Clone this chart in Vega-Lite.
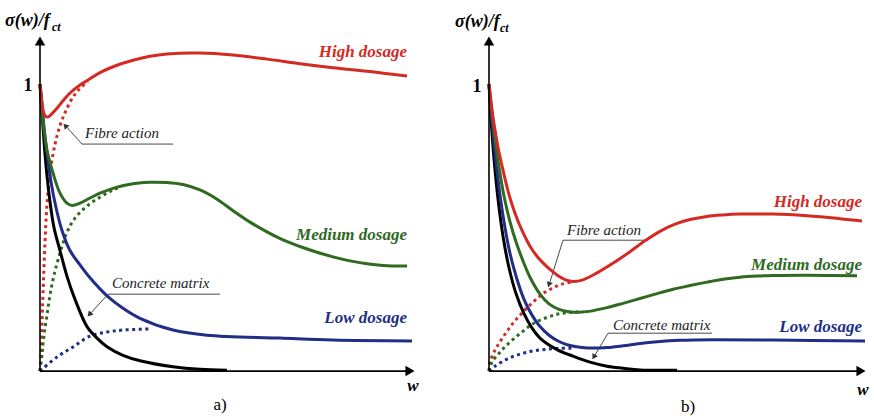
{
  "$schema": "https://vega.github.io/schema/vega-lite/v6.json",
  "padding": 0,
  "autosize": {"type": "pad"},
  "background": "white",
  "spacing": 0,
  "config": {"view": {"stroke": null}, "concat": {"spacing": 0}, "text": {"font": "Liberation Serif, Times New Roman, DejaVu Serif, serif"}},
  "datasets": {
    "curves": [
      {"p":"a","d":"Matrix","k":"t","w":0,"s":1},{"p":"a","d":"Matrix","k":"t","w":0.02,"s":0.9},{"p":"a","d":"Matrix","k":"t","w":0.04,"s":0.8},{"p":"a","d":"Matrix","k":"t","w":0.07,"s":0.68},{"p":"a","d":"Matrix","k":"t","w":0.1,"s":0.59},{"p":"a","d":"Matrix","k":"t","w":0.14,"s":0.5},{"p":"a","d":"Matrix","k":"t","w":0.2,"s":0.42},{"p":"a","d":"Matrix","k":"t","w":0.27,"s":0.33},{"p":"a","d":"Matrix","k":"t","w":0.35,"s":0.25},{"p":"a","d":"Matrix","k":"t","w":0.47,"s":0.155},{"p":"a","d":"Matrix","k":"t","w":0.57,"s":0.115},{"p":"a","d":"Matrix","k":"t","w":0.67,"s":0.085},{"p":"a","d":"Matrix","k":"t","w":0.83,"s":0.055},{"p":"a","d":"Matrix","k":"t","w":1.0,"s":0.036},{"p":"a","d":"Matrix","k":"t","w":1.33,"s":0.015},{"p":"a","d":"Matrix","k":"t","w":1.6,"s":0.006},{"p":"a","d":"Matrix","k":"t","w":1.87,"s":0.003},

      {"p":"a","d":"Low","k":"t","w":0,"s":1},{"p":"a","d":"Low","k":"t","w":0.02,"s":0.93},{"p":"a","d":"Low","k":"t","w":0.04,"s":0.85},{"p":"a","d":"Low","k":"t","w":0.07,"s":0.76},{"p":"a","d":"Low","k":"t","w":0.11,"s":0.66},{"p":"a","d":"Low","k":"t","w":0.16,"s":0.57},{"p":"a","d":"Low","k":"t","w":0.22,"s":0.49},{"p":"a","d":"Low","k":"t","w":0.3,"s":0.42},{"p":"a","d":"Low","k":"t","w":0.4,"s":0.37},{"p":"a","d":"Low","k":"t","w":0.5,"s":0.325},{"p":"a","d":"Low","k":"t","w":0.67,"s":0.262},{"p":"a","d":"Low","k":"t","w":0.83,"s":0.219},{"p":"a","d":"Low","k":"t","w":1.0,"s":0.184},{"p":"a","d":"Low","k":"t","w":1.33,"s":0.143},{"p":"a","d":"Low","k":"t","w":1.67,"s":0.125},{"p":"a","d":"Low","k":"t","w":2.4,"s":0.115},{"p":"a","d":"Low","k":"t","w":2.93,"s":0.108},{"p":"a","d":"Low","k":"t","w":3.72,"s":0.105},

      {"p":"a","d":"Medium","k":"t","w":0,"s":1},{"p":"a","d":"Medium","k":"t","w":0.015,"s":0.93},{"p":"a","d":"Medium","k":"t","w":0.03,"s":0.87},{"p":"a","d":"Medium","k":"t","w":0.07,"s":0.77},{"p":"a","d":"Medium","k":"t","w":0.13,"s":0.69},{"p":"a","d":"Medium","k":"t","w":0.2,"s":0.62},{"p":"a","d":"Medium","k":"t","w":0.27,"s":0.585},{"p":"a","d":"Medium","k":"t","w":0.32,"s":0.577},{"p":"a","d":"Medium","k":"t","w":0.4,"s":0.585},{"p":"a","d":"Medium","k":"t","w":0.5,"s":0.603},{"p":"a","d":"Medium","k":"t","w":0.6,"s":0.62},{"p":"a","d":"Medium","k":"t","w":0.77,"s":0.641},{"p":"a","d":"Medium","k":"t","w":0.93,"s":0.653},{"p":"a","d":"Medium","k":"t","w":1.1,"s":0.658},{"p":"a","d":"Medium","k":"t","w":1.27,"s":0.657},{"p":"a","d":"Medium","k":"t","w":1.43,"s":0.65},{"p":"a","d":"Medium","k":"t","w":1.6,"s":0.631},{"p":"a","d":"Medium","k":"t","w":1.77,"s":0.599},{"p":"a","d":"Medium","k":"t","w":1.93,"s":0.559},{"p":"a","d":"Medium","k":"t","w":2.1,"s":0.519},{"p":"a","d":"Medium","k":"t","w":2.27,"s":0.485},{"p":"a","d":"Medium","k":"t","w":2.43,"s":0.457},{"p":"a","d":"Medium","k":"t","w":2.6,"s":0.434},{"p":"a","d":"Medium","k":"t","w":2.77,"s":0.414},{"p":"a","d":"Medium","k":"t","w":2.93,"s":0.398},{"p":"a","d":"Medium","k":"t","w":3.1,"s":0.384},{"p":"a","d":"Medium","k":"t","w":3.27,"s":0.374},{"p":"a","d":"Medium","k":"t","w":3.43,"s":0.368},{"p":"a","d":"Medium","k":"t","w":3.67,"s":0.366},

      {"p":"a","d":"High","k":"t","w":0,"s":1},{"p":"a","d":"High","k":"t","w":0.015,"s":0.95},{"p":"a","d":"High","k":"t","w":0.03,"s":0.91},{"p":"a","d":"High","k":"t","w":0.05,"s":0.89},{"p":"a","d":"High","k":"t","w":0.08,"s":0.885},{"p":"a","d":"High","k":"t","w":0.12,"s":0.897},{"p":"a","d":"High","k":"t","w":0.17,"s":0.916},{"p":"a","d":"High","k":"t","w":0.23,"s":0.942},{"p":"a","d":"High","k":"t","w":0.3,"s":0.969},{"p":"a","d":"High","k":"t","w":0.4,"s":0.997},{"p":"a","d":"High","k":"t","w":0.48,"s":1.014},{"p":"a","d":"High","k":"t","w":0.6,"s":1.04},{"p":"a","d":"High","k":"t","w":0.75,"s":1.063},{"p":"a","d":"High","k":"t","w":0.93,"s":1.083},{"p":"a","d":"High","k":"t","w":1.1,"s":1.097},{"p":"a","d":"High","k":"t","w":1.27,"s":1.105},{"p":"a","d":"High","k":"t","w":1.6,"s":1.108},{"p":"a","d":"High","k":"t","w":1.93,"s":1.101},{"p":"a","d":"High","k":"t","w":2.27,"s":1.087},{"p":"a","d":"High","k":"t","w":2.6,"s":1.071},{"p":"a","d":"High","k":"t","w":2.93,"s":1.057},{"p":"a","d":"High","k":"t","w":3.27,"s":1.045},{"p":"a","d":"High","k":"t","w":3.67,"s":1.028},

      {"p":"a","d":"High","k":"f","w":0,"s":0},{"p":"a","d":"High","k":"f","w":0.01,"s":0.06},{"p":"a","d":"High","k":"f","w":0.02,"s":0.16},{"p":"a","d":"High","k":"f","w":0.03,"s":0.27},{"p":"a","d":"High","k":"f","w":0.05,"s":0.45},{"p":"a","d":"High","k":"f","w":0.07,"s":0.58},{"p":"a","d":"High","k":"f","w":0.1,"s":0.69},{"p":"a","d":"High","k":"f","w":0.15,"s":0.79},{"p":"a","d":"High","k":"f","w":0.2,"s":0.855},{"p":"a","d":"High","k":"f","w":0.25,"s":0.9},{"p":"a","d":"High","k":"f","w":0.33,"s":0.955},{"p":"a","d":"High","k":"f","w":0.4,"s":0.985},{"p":"a","d":"High","k":"f","w":0.48,"s":1.008},

      {"p":"a","d":"Medium","k":"f","w":0,"s":0},{"p":"a","d":"Medium","k":"f","w":0.02,"s":0.056},{"p":"a","d":"Medium","k":"f","w":0.04,"s":0.125},{"p":"a","d":"Medium","k":"f","w":0.07,"s":0.195},{"p":"a","d":"Medium","k":"f","w":0.1,"s":0.265},{"p":"a","d":"Medium","k":"f","w":0.14,"s":0.334},{"p":"a","d":"Medium","k":"f","w":0.2,"s":0.411},{"p":"a","d":"Medium","k":"f","w":0.27,"s":0.484},{"p":"a","d":"Medium","k":"f","w":0.35,"s":0.533},{"p":"a","d":"Medium","k":"f","w":0.47,"s":0.575},{"p":"a","d":"Medium","k":"f","w":0.6,"s":0.606},{"p":"a","d":"Medium","k":"f","w":0.73,"s":0.631},{"p":"a","d":"Medium","k":"f","w":0.82,"s":0.645},

      {"p":"a","d":"Low","k":"f","w":0,"s":0},{"p":"a","d":"Low","k":"f","w":0.17,"s":0.049},{"p":"a","d":"Low","k":"f","w":0.33,"s":0.084},{"p":"a","d":"Low","k":"f","w":0.5,"s":0.122},{"p":"a","d":"Low","k":"f","w":0.67,"s":0.136},{"p":"a","d":"Low","k":"f","w":0.83,"s":0.143},{"p":"a","d":"Low","k":"f","w":1.1,"s":0.147},

      {"p":"b","d":"Matrix","k":"t","w":0,"s":1},{"p":"b","d":"Matrix","k":"t","w":0.02,"s":0.88},{"p":"b","d":"Matrix","k":"t","w":0.05,"s":0.74},{"p":"b","d":"Matrix","k":"t","w":0.09,"s":0.6},{"p":"b","d":"Matrix","k":"t","w":0.14,"s":0.47},{"p":"b","d":"Matrix","k":"t","w":0.2,"s":0.36},{"p":"b","d":"Matrix","k":"t","w":0.27,"s":0.27},{"p":"b","d":"Matrix","k":"t","w":0.35,"s":0.2},{"p":"b","d":"Matrix","k":"t","w":0.43,"s":0.15},{"p":"b","d":"Matrix","k":"t","w":0.51,"s":0.115},{"p":"b","d":"Matrix","k":"t","w":0.68,"s":0.075},{"p":"b","d":"Matrix","k":"t","w":0.84,"s":0.052},{"p":"b","d":"Matrix","k":"t","w":1.01,"s":0.031},{"p":"b","d":"Matrix","k":"t","w":1.18,"s":0.017},{"p":"b","d":"Matrix","k":"t","w":1.34,"s":0.01},{"p":"b","d":"Matrix","k":"t","w":1.51,"s":0.004},{"p":"b","d":"Matrix","k":"t","w":1.88,"s":0.003},

      {"p":"b","d":"Low","k":"t","w":0,"s":1},{"p":"b","d":"Low","k":"t","w":0.03,"s":0.87},{"p":"b","d":"Low","k":"t","w":0.06,"s":0.76},{"p":"b","d":"Low","k":"t","w":0.1,"s":0.64},{"p":"b","d":"Low","k":"t","w":0.15,"s":0.52},{"p":"b","d":"Low","k":"t","w":0.21,"s":0.41},{"p":"b","d":"Low","k":"t","w":0.28,"s":0.32},{"p":"b","d":"Low","k":"t","w":0.35,"s":0.25},{"p":"b","d":"Low","k":"t","w":0.43,"s":0.195},{"p":"b","d":"Low","k":"t","w":0.51,"s":0.155},{"p":"b","d":"Low","k":"t","w":0.6,"s":0.125},{"p":"b","d":"Low","k":"t","w":0.7,"s":0.103},{"p":"b","d":"Low","k":"t","w":0.8,"s":0.09},{"p":"b","d":"Low","k":"t","w":0.93,"s":0.082},{"p":"b","d":"Low","k":"t","w":1.05,"s":0.08},{"p":"b","d":"Low","k":"t","w":1.18,"s":0.082},{"p":"b","d":"Low","k":"t","w":1.34,"s":0.088},{"p":"b","d":"Low","k":"t","w":1.51,"s":0.096},{"p":"b","d":"Low","k":"t","w":1.68,"s":0.102},{"p":"b","d":"Low","k":"t","w":1.91,"s":0.107},{"p":"b","d":"Low","k":"t","w":2.24,"s":0.109},{"p":"b","d":"Low","k":"t","w":2.84,"s":0.108},{"p":"b","d":"Low","k":"t","w":3.76,"s":0.105},

      {"p":"b","d":"Medium","k":"t","w":0,"s":1},{"p":"b","d":"Medium","k":"t","w":0.03,"s":0.9},{"p":"b","d":"Medium","k":"t","w":0.06,"s":0.81},{"p":"b","d":"Medium","k":"t","w":0.1,"s":0.71},{"p":"b","d":"Medium","k":"t","w":0.15,"s":0.61},{"p":"b","d":"Medium","k":"t","w":0.21,"s":0.52},{"p":"b","d":"Medium","k":"t","w":0.28,"s":0.44},{"p":"b","d":"Medium","k":"t","w":0.35,"s":0.375},{"p":"b","d":"Medium","k":"t","w":0.41,"s":0.327},{"p":"b","d":"Medium","k":"t","w":0.51,"s":0.268},{"p":"b","d":"Medium","k":"t","w":0.6,"s":0.234},{"p":"b","d":"Medium","k":"t","w":0.7,"s":0.215},{"p":"b","d":"Medium","k":"t","w":0.8,"s":0.207},{"p":"b","d":"Medium","k":"t","w":0.9,"s":0.205},{"p":"b","d":"Medium","k":"t","w":1.0,"s":0.208},{"p":"b","d":"Medium","k":"t","w":1.18,"s":0.221},{"p":"b","d":"Medium","k":"t","w":1.34,"s":0.236},{"p":"b","d":"Medium","k":"t","w":1.51,"s":0.253},{"p":"b","d":"Medium","k":"t","w":1.68,"s":0.27},{"p":"b","d":"Medium","k":"t","w":1.84,"s":0.285},{"p":"b","d":"Medium","k":"t","w":2.01,"s":0.298},{"p":"b","d":"Medium","k":"t","w":2.18,"s":0.31},{"p":"b","d":"Medium","k":"t","w":2.34,"s":0.32},{"p":"b","d":"Medium","k":"t","w":2.51,"s":0.327},{"p":"b","d":"Medium","k":"t","w":2.68,"s":0.331},{"p":"b","d":"Medium","k":"t","w":2.84,"s":0.333},{"p":"b","d":"Medium","k":"t","w":3.18,"s":0.334},{"p":"b","d":"Medium","k":"t","w":3.68,"s":0.332},

      {"p":"b","d":"High","k":"t","w":0,"s":1},{"p":"b","d":"High","k":"t","w":0.03,"s":0.91},{"p":"b","d":"High","k":"t","w":0.06,"s":0.84},{"p":"b","d":"High","k":"t","w":0.09,"s":0.78},{"p":"b","d":"High","k":"t","w":0.14,"s":0.7},{"p":"b","d":"High","k":"t","w":0.2,"s":0.615},{"p":"b","d":"High","k":"t","w":0.26,"s":0.55},{"p":"b","d":"High","k":"t","w":0.33,"s":0.49},{"p":"b","d":"High","k":"t","w":0.41,"s":0.435},{"p":"b","d":"High","k":"t","w":0.48,"s":0.4},{"p":"b","d":"High","k":"t","w":0.54,"s":0.377},{"p":"b","d":"High","k":"t","w":0.61,"s":0.354},{"p":"b","d":"High","k":"t","w":0.68,"s":0.335},{"p":"b","d":"High","k":"t","w":0.76,"s":0.319},{"p":"b","d":"High","k":"t","w":0.84,"s":0.312},{"p":"b","d":"High","k":"t","w":0.94,"s":0.318},{"p":"b","d":"High","k":"t","w":1.08,"s":0.342},{"p":"b","d":"High","k":"t","w":1.25,"s":0.378},{"p":"b","d":"High","k":"t","w":1.41,"s":0.416},{"p":"b","d":"High","k":"t","w":1.56,"s":0.454},{"p":"b","d":"High","k":"t","w":1.71,"s":0.487},{"p":"b","d":"High","k":"t","w":1.86,"s":0.512},{"p":"b","d":"High","k":"t","w":2.01,"s":0.528},{"p":"b","d":"High","k":"t","w":2.18,"s":0.539},{"p":"b","d":"High","k":"t","w":2.34,"s":0.544},{"p":"b","d":"High","k":"t","w":2.51,"s":0.547},{"p":"b","d":"High","k":"t","w":2.84,"s":0.547},{"p":"b","d":"High","k":"t","w":3.18,"s":0.541},{"p":"b","d":"High","k":"t","w":3.51,"s":0.531},{"p":"b","d":"High","k":"t","w":3.73,"s":0.523},

      {"p":"b","d":"High","k":"f","w":0,"s":0},{"p":"b","d":"High","k":"f","w":0.01,"s":0.031},{"p":"b","d":"High","k":"f","w":0.06,"s":0.073},{"p":"b","d":"High","k":"f","w":0.14,"s":0.118},{"p":"b","d":"High","k":"f","w":0.24,"s":0.167},{"p":"b","d":"High","k":"f","w":0.34,"s":0.206},{"p":"b","d":"High","k":"f","w":0.44,"s":0.24},{"p":"b","d":"High","k":"f","w":0.54,"s":0.27},{"p":"b","d":"High","k":"f","w":0.64,"s":0.29},{"p":"b","d":"High","k":"f","w":0.74,"s":0.304},{"p":"b","d":"High","k":"f","w":0.84,"s":0.311},

      {"p":"b","d":"Medium","k":"f","w":0,"s":0},{"p":"b","d":"Medium","k":"f","w":0.03,"s":0.031},{"p":"b","d":"Medium","k":"f","w":0.11,"s":0.066},{"p":"b","d":"Medium","k":"f","w":0.21,"s":0.101},{"p":"b","d":"Medium","k":"f","w":0.33,"s":0.136},{"p":"b","d":"Medium","k":"f","w":0.44,"s":0.165},{"p":"b","d":"Medium","k":"f","w":0.58,"s":0.187},{"p":"b","d":"Medium","k":"f","w":0.71,"s":0.2},{"p":"b","d":"Medium","k":"f","w":0.84,"s":0.205},{"p":"b","d":"Medium","k":"f","w":0.94,"s":0.206},

      {"p":"b","d":"Low","k":"f","w":0,"s":0},{"p":"b","d":"Low","k":"f","w":0.06,"s":0.017},{"p":"b","d":"Low","k":"f","w":0.18,"s":0.042},{"p":"b","d":"Low","k":"f","w":0.31,"s":0.059},{"p":"b","d":"Low","k":"f","w":0.44,"s":0.07},{"p":"b","d":"Low","k":"f","w":0.58,"s":0.076},{"p":"b","d":"Low","k":"f","w":0.71,"s":0.079},{"p":"b","d":"Low","k":"f","w":0.84,"s":0.08}
    ],
    "segs": [
      {"p":"a","r":"axis","w":0,"s":0,"w2":0,"s2":1.14},
      {"p":"a","r":"axis","w":0,"s":0,"w2":3.66,"s2":0},
      {"p":"a","r":"lead","w":0.42,"s":0.791,"w2":1.33,"s2":0.791},
      {"p":"a","r":"lead","w":0.42,"s":0.791,"w2":0.25,"s2":0.857},
      {"p":"a","r":"lead","w":0.68,"s":0.268,"w2":1.8,"s2":0.268},
      {"p":"a","r":"lead","w":0.68,"s":0.268,"w2":0.49,"s2":0.195},
      {"p":"b","r":"axis","w":0,"s":0,"w2":0,"s2":1.14},
      {"p":"b","r":"axis","w":0,"s":0,"w2":3.68,"s2":0},
      {"p":"b","r":"lead","w":0.74,"s":0.456,"w2":1.59,"s2":0.456},
      {"p":"b","r":"lead","w":0.74,"s":0.456,"w2":0.6,"s2":0.3},
      {"p":"b","r":"lead","w":1.19,"s":0.132,"w2":2.23,"s2":0.132},
      {"p":"b","r":"lead","w":1.19,"s":0.132,"w2":1.05,"s2":0.05}
    ],
    "heads": [
      {"p":"a","r":"axis","w":0,"s":1.15,"h":0},
      {"p":"a","r":"axis","w":3.7,"s":0,"h":90},
      {"p":"a","r":"lead","w":0.253,"s":0.855,"h":318},
      {"p":"a","r":"lead","w":0.494,"s":0.197,"h":222},
      {"p":"b","r":"axis","w":0,"s":1.15,"h":0},
      {"p":"b","r":"axis","w":3.72,"s":0,"h":90},
      {"p":"b","r":"lead","w":0.6,"s":0.301,"h":197},
      {"p":"b","r":"lead","w":1.048,"s":0.049,"h":211}
    ],
    "labels": [
      {"p":"a","r":"dose","d":"High","t":"High dosage","w":3.67,"s":1.111},
      {"p":"a","r":"dose","d":"Medium","t":"Medium dosage","w":3.67,"s":0.474},
      {"p":"a","r":"dose","d":"Low","t":"Low dosage","w":3.67,"s":0.185},
      {"p":"a","r":"note","t":"Fibre action","w":0.45,"s":0.829},
      {"p":"a","r":"note","t":"Concrete matrix","w":0.72,"s":0.307},
      {"p":"a","r":"one","t":"1","w":-0.12,"s":0.993},
      {"p":"a","r":"ytitle","t":"σ(w)/f","w":-0.35,"s":1.22},
      {"p":"a","r":"ysub","t":"ct","w":0.12,"s":1.199},
      {"p":"a","r":"xtitle","t":"w","w":3.73,"s":-0.052},
      {"p":"a","r":"cap","t":"a)","w":1.8,"s":-0.118},
      {"p":"b","r":"dose","d":"High","t":"High dosage","w":3.73,"s":0.589},
      {"p":"b","r":"dose","d":"Medium","t":"Medium dosage","w":3.73,"s":0.369},
      {"p":"b","r":"dose","d":"Low","t":"Low dosage","w":3.73,"s":0.153},
      {"p":"b","r":"note","t":"Fibre action","w":0.78,"s":0.491},
      {"p":"b","r":"note","t":"Concrete matrix","w":1.24,"s":0.16},
      {"p":"b","r":"one","t":"1","w":-0.12,"s":0.99},
      {"p":"b","r":"ytitle","t":"σ(w)/f","w":-0.34,"s":1.216},
      {"p":"b","r":"ysub","t":"ct","w":0.11,"s":1.195},
      {"p":"b","r":"xtitle","t":"w","w":3.74,"s":-0.066},
      {"p":"b","r":"cap","t":"b)","w":1.99,"s":-0.125}
    ]
  },
  "hconcat": [
    {
      "width": 437,
      "height": 417,
      "encoding": {
        "x": {"field": "w", "type": "quantitative", "scale": {"domain": [-0.4, 3.97], "nice": false, "zero": false}, "axis": null},
        "y": {"field": "s", "type": "quantitative", "scale": {"domain": [-0.16, 1.293], "nice": false, "zero": false}, "axis": null}
      },
      "layer": [
        {"data": {"name": "segs"}, "transform": [{"filter": "datum.p === 'a' && datum.r === 'lead'"}], "mark": {"type": "rule", "color": "#4a4a4a", "strokeWidth": 1}, "encoding": {"x2": {"field": "w2"}, "y2": {"field": "s2"}}},
        {"data": {"name": "heads"}, "transform": [{"filter": "datum.p === 'a' && datum.r === 'lead'"}], "mark": {"type": "point", "shape": "triangle-up", "filled": true, "color": "#333333", "size": 40, "opacity": 1}, "encoding": {"angle": {"field": "h", "type": "quantitative", "scale": null}}},
        {"data": {"name": "curves"}, "transform": [{"filter": "datum.p === 'a' && datum.k === 'f'"}], "mark": {"type": "line", "strokeWidth": 3, "strokeDash": [3, 3.5], "interpolate": "catmull-rom"}, "encoding": {"color": {"field": "d", "type": "nominal", "scale": {"domain": ["High", "Medium", "Low", "Matrix"], "range": ["#d42a24", "#2e6a1f", "#202e86", "#000000"]}, "legend": null}}},
        {"data": {"name": "curves"}, "transform": [{"filter": "datum.p === 'a' && datum.k === 't'"}], "mark": {"type": "line", "strokeWidth": 3, "interpolate": "catmull-rom"}, "encoding": {"color": {"field": "d", "type": "nominal", "scale": {"domain": ["High", "Medium", "Low", "Matrix"], "range": ["#d42a24", "#2e6a1f", "#202e86", "#000000"]}, "legend": null}}},
        {"data": {"name": "segs"}, "transform": [{"filter": "datum.p === 'a' && datum.r === 'axis'"}], "mark": {"type": "rule", "color": "#000000", "strokeWidth": 1.6}, "encoding": {"x2": {"field": "w2"}, "y2": {"field": "s2"}}},
        {"data": {"name": "heads"}, "transform": [{"filter": "datum.p === 'a' && datum.r === 'axis'"}], "mark": {"type": "point", "shape": "triangle-up", "filled": true, "color": "#000000", "size": 110, "opacity": 1}, "encoding": {"angle": {"field": "h", "type": "quantitative", "scale": null}}},
        {"data": {"name": "labels"}, "transform": [{"filter": "datum.p === 'a' && datum.r === 'dose'"}], "mark": {"type": "text", "fontStyle": "italic", "fontWeight": "bold", "fontSize": 17, "align": "right", "baseline": "middle"}, "encoding": {"text": {"field": "t"}, "color": {"field": "d", "type": "nominal", "scale": {"domain": ["High", "Medium", "Low", "Matrix"], "range": ["#d42a24", "#2e6a1f", "#202e86", "#000000"]}, "legend": null}}},
        {"data": {"name": "labels"}, "transform": [{"filter": "datum.p === 'a' && datum.r === 'note'"}], "mark": {"type": "text", "fontStyle": "italic", "fontSize": 15, "align": "left", "baseline": "middle", "color": "#222222"}, "encoding": {"text": {"field": "t"}}},
        {"data": {"name": "labels"}, "transform": [{"filter": "datum.p === 'a' && datum.r === 'one'"}], "mark": {"type": "text", "fontWeight": "bold", "fontSize": 18, "align": "center", "baseline": "middle", "color": "#000000"}, "encoding": {"text": {"field": "t"}}},
        {"data": {"name": "labels"}, "transform": [{"filter": "datum.p === 'a' && datum.r === 'ytitle'"}], "mark": {"type": "text", "fontStyle": "italic", "fontWeight": "bold", "fontSize": 18, "align": "left", "baseline": "middle", "color": "#000000"}, "encoding": {"text": {"field": "t"}}},
        {"data": {"name": "labels"}, "transform": [{"filter": "datum.p === 'a' && datum.r === 'ysub'"}], "mark": {"type": "text", "fontStyle": "italic", "fontWeight": "bold", "fontSize": 12, "align": "left", "baseline": "middle", "color": "#000000"}, "encoding": {"text": {"field": "t"}}},
        {"data": {"name": "labels"}, "transform": [{"filter": "datum.p === 'a' && datum.r === 'xtitle'"}], "mark": {"type": "text", "fontStyle": "italic", "fontWeight": "bold", "fontSize": 17, "align": "center", "baseline": "middle", "color": "#000000"}, "encoding": {"text": {"field": "t"}}},
        {"data": {"name": "labels"}, "transform": [{"filter": "datum.p === 'a' && datum.r === 'cap'"}], "mark": {"type": "text", "fontSize": 17, "align": "center", "baseline": "middle", "color": "#000000"}, "encoding": {"text": {"field": "t"}}}
      ]
    },
    {
      "width": 437,
      "height": 417,
      "encoding": {
        "x": {"field": "w", "type": "quantitative", "scale": {"domain": [-0.52, 3.85], "nice": false, "zero": false}, "axis": null},
        "y": {"field": "s", "type": "quantitative", "scale": {"domain": [-0.16, 1.293], "nice": false, "zero": false}, "axis": null}
      },
      "layer": [
        {"data": {"name": "segs"}, "transform": [{"filter": "datum.p === 'b' && datum.r === 'lead'"}], "mark": {"type": "rule", "color": "#4a4a4a", "strokeWidth": 1}, "encoding": {"x2": {"field": "w2"}, "y2": {"field": "s2"}}},
        {"data": {"name": "heads"}, "transform": [{"filter": "datum.p === 'b' && datum.r === 'lead'"}], "mark": {"type": "point", "shape": "triangle-up", "filled": true, "color": "#333333", "size": 40, "opacity": 1}, "encoding": {"angle": {"field": "h", "type": "quantitative", "scale": null}}},
        {"data": {"name": "curves"}, "transform": [{"filter": "datum.p === 'b' && datum.k === 'f'"}], "mark": {"type": "line", "strokeWidth": 3, "strokeDash": [3, 3.5], "interpolate": "catmull-rom"}, "encoding": {"color": {"field": "d", "type": "nominal", "scale": {"domain": ["High", "Medium", "Low", "Matrix"], "range": ["#d42a24", "#2e6a1f", "#202e86", "#000000"]}, "legend": null}}},
        {"data": {"name": "curves"}, "transform": [{"filter": "datum.p === 'b' && datum.k === 't'"}], "mark": {"type": "line", "strokeWidth": 3, "interpolate": "catmull-rom"}, "encoding": {"color": {"field": "d", "type": "nominal", "scale": {"domain": ["High", "Medium", "Low", "Matrix"], "range": ["#d42a24", "#2e6a1f", "#202e86", "#000000"]}, "legend": null}}},
        {"data": {"name": "segs"}, "transform": [{"filter": "datum.p === 'b' && datum.r === 'axis'"}], "mark": {"type": "rule", "color": "#000000", "strokeWidth": 1.6}, "encoding": {"x2": {"field": "w2"}, "y2": {"field": "s2"}}},
        {"data": {"name": "heads"}, "transform": [{"filter": "datum.p === 'b' && datum.r === 'axis'"}], "mark": {"type": "point", "shape": "triangle-up", "filled": true, "color": "#000000", "size": 110, "opacity": 1}, "encoding": {"angle": {"field": "h", "type": "quantitative", "scale": null}}},
        {"data": {"name": "labels"}, "transform": [{"filter": "datum.p === 'b' && datum.r === 'dose'"}], "mark": {"type": "text", "fontStyle": "italic", "fontWeight": "bold", "fontSize": 17, "align": "right", "baseline": "middle"}, "encoding": {"text": {"field": "t"}, "color": {"field": "d", "type": "nominal", "scale": {"domain": ["High", "Medium", "Low", "Matrix"], "range": ["#d42a24", "#2e6a1f", "#202e86", "#000000"]}, "legend": null}}},
        {"data": {"name": "labels"}, "transform": [{"filter": "datum.p === 'b' && datum.r === 'note'"}], "mark": {"type": "text", "fontStyle": "italic", "fontSize": 15, "align": "left", "baseline": "middle", "color": "#222222"}, "encoding": {"text": {"field": "t"}}},
        {"data": {"name": "labels"}, "transform": [{"filter": "datum.p === 'b' && datum.r === 'one'"}], "mark": {"type": "text", "fontWeight": "bold", "fontSize": 18, "align": "center", "baseline": "middle", "color": "#000000"}, "encoding": {"text": {"field": "t"}}},
        {"data": {"name": "labels"}, "transform": [{"filter": "datum.p === 'b' && datum.r === 'ytitle'"}], "mark": {"type": "text", "fontStyle": "italic", "fontWeight": "bold", "fontSize": 18, "align": "left", "baseline": "middle", "color": "#000000"}, "encoding": {"text": {"field": "t"}}},
        {"data": {"name": "labels"}, "transform": [{"filter": "datum.p === 'b' && datum.r === 'ysub'"}], "mark": {"type": "text", "fontStyle": "italic", "fontWeight": "bold", "fontSize": 12, "align": "left", "baseline": "middle", "color": "#000000"}, "encoding": {"text": {"field": "t"}}},
        {"data": {"name": "labels"}, "transform": [{"filter": "datum.p === 'b' && datum.r === 'xtitle'"}], "mark": {"type": "text", "fontStyle": "italic", "fontWeight": "bold", "fontSize": 17, "align": "center", "baseline": "middle", "color": "#000000"}, "encoding": {"text": {"field": "t"}}},
        {"data": {"name": "labels"}, "transform": [{"filter": "datum.p === 'b' && datum.r === 'cap'"}], "mark": {"type": "text", "fontSize": 17, "align": "center", "baseline": "middle", "color": "#000000"}, "encoding": {"text": {"field": "t"}}}
      ]
    }
  ]
}
